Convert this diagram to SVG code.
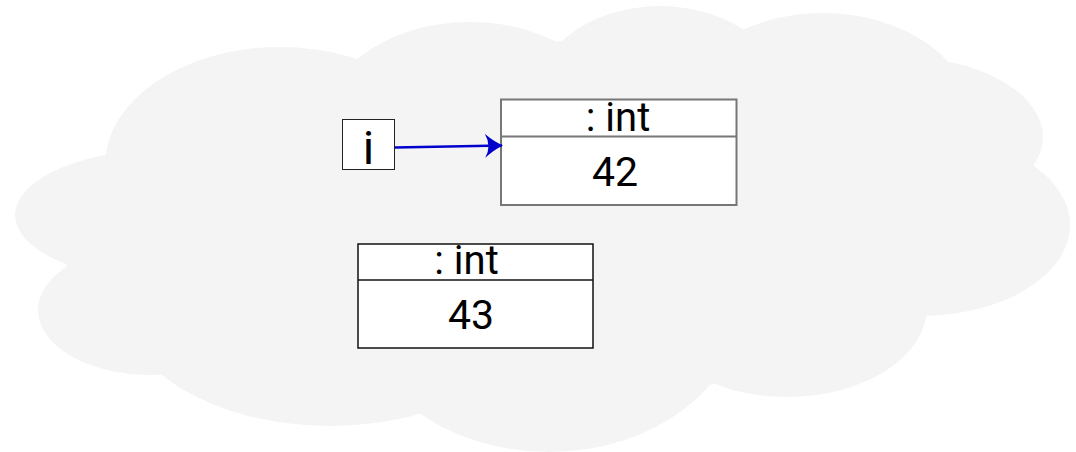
<svg xmlns="http://www.w3.org/2000/svg" width="1076" height="452" viewBox="0 0 1076 452">
  <style>
    .cloud { fill: #f4f4f4; stroke: none; }
    .box { fill: #ffffff; }
    .lbl { font-family: Roboto, "Liberation Sans", sans-serif; fill: #000000; text-anchor: middle; }
    .edge { fill: none; stroke: #0000cc; stroke-width: 2.5; }
  </style>
  <defs>
    <!-- barbed dart head with a concave back -->
    <marker id="dart" viewBox="0 0 18 24" refX="17" refY="12" markerWidth="18" markerHeight="24" markerUnits="userSpaceOnUse" orient="auto">
      <path d="M18,12 Q9,8 0,0 Q7,12 0,24 Q9,16 18,12 Z" fill="#0000cc"/>
    </marker>
  </defs>

  <!-- background cloud: union of lobes plus a core polygon -->
  <g id="cloud">
    <polygon class="cloud" points="107,155 355,59 562,41 742,30 948,62 1033,165 925,317 710,385 415,410 157,371 66,267"/>
    <ellipse class="cloud" cx="280" cy="165" rx="175" ry="118"/>
    <ellipse class="cloud" cx="470" cy="131" rx="150" ry="109"/>
    <ellipse class="cloud" cx="660" cy="106" rx="129" ry="100"/>
    <ellipse class="cloud" cx="823" cy="120" rx="149" ry="107"/>
    <ellipse class="cloud" cx="900" cy="137" rx="143" ry="80"/>
    <ellipse class="cloud" cx="920" cy="225" rx="150" ry="91"/>
    <ellipse class="cloud" cx="787" cy="307" rx="140" ry="90"/>
    <ellipse class="cloud" cx="549" cy="300" rx="194" ry="152"/>
    <ellipse class="cloud" cx="330" cy="300" rx="209" ry="126"/>
    <ellipse class="cloud" cx="150" cy="310" rx="112" ry="65"/>
    <ellipse class="cloud" cx="170" cy="215" rx="155" ry="66"/>
  </g>

  <!-- reference variable i -->
  <g id="var-i">
    <rect class="box" x="342.5" y="119.5" width="52" height="50" stroke="#222222" stroke-width="1"/>
    <text class="lbl" x="368.5" y="164.3" font-size="47">i</text>
  </g>

  <!-- int object holding 42 -->
  <g id="obj-42">
    <rect class="box" x="501" y="99.5" width="235.5" height="105.5" stroke="#777777" stroke-width="2"/>
    <line x1="501" y1="136.5" x2="736.5" y2="136.5" stroke="#777777" stroke-width="2"/>
    <text class="lbl" x="618" y="131" font-size="40">: int</text>
    <text class="lbl" x="615" y="185.7" font-size="41">42</text>
  </g>

  <!-- int object holding 43 -->
  <g id="obj-43">
    <rect class="box" x="358" y="244" width="235" height="104" stroke="#111111" stroke-width="1.5"/>
    <line x1="358" y1="280" x2="593" y2="280" stroke="#111111" stroke-width="1.5"/>
    <text class="lbl" x="466.5" y="273.7" font-size="40">: int</text>
    <text class="lbl" x="471" y="328.7" font-size="41">43</text>
  </g>

  <!-- connectors -->
  <g id="connectors">
    <path class="edge" d="M395,147.5 L502,145.5" marker-end="url(#dart)"/>
  </g>
</svg>
